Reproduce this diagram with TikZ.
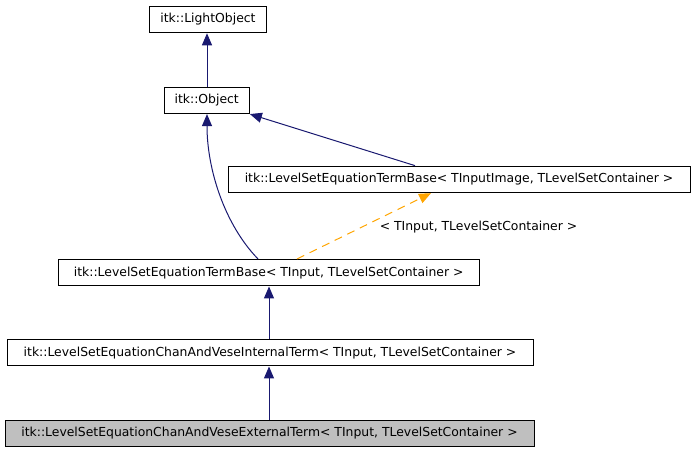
\documentclass[tikz,border=0pt]{standalone}
\usepackage{fontspec}
\setmainfont{DejaVu Sans}
\usetikzlibrary{arrows.meta}
\definecolor{edgeblue}{HTML}{191970}
\definecolor{edgeorange}{HTML}{FFA500}
\definecolor{boxgray}{HTML}{BFBFBF}
\begin{document}
\begin{tikzpicture}[x=0.75pt,y=-0.75pt,
  cls/.style={draw=black,line width=0.75pt,fill=white,inner sep=0pt,minimum height=19.9pt,font=\fontsize{9.3}{11}\selectfont},
  inh/.style={draw=edgeblue,line width=0.75pt,-{Triangle[length=9pt,width=7.5pt]}},
  tmpl/.style={draw=edgeorange,line width=0.75pt,dash pattern=on 6pt off 4.5pt,-{Triangle[length=9pt,width=7.5pt,fill=edgeorange]}}]
\useasboundingbox (0,0) rectangle (693,453);
\node[cls,minimum width=88pt] (light) at (208,19.5) {itk::LightObject};
\node[cls,minimum width=64pt] (obj) at (206.7,100.3) {itk::Object};
\node[cls,minimum width=346.5pt] (baseimg) at (459,179.4) {itk::LevelSetEquationTermBase< TInputImage, TLevelSetContainer >};
\node[cls,minimum width=315.75pt] (base) at (268.7,272.7) {itk::LevelSetEquationTermBase< TInput, TLevelSetContainer >};
\node[cls,minimum width=394.5pt] (internal) at (270,352.7) {itk::LevelSetEquationChanAndVeseInternalTerm< TInput, TLevelSetContainer >};
\node[cls,fill=boxgray,minimum width=396.75pt] (external) at (269.5,433.3) {itk::LevelSetEquationChanAndVeseExternalTerm< TInput, TLevelSetContainer >};
\draw[inh] (obj.north -| 207,0) -- (light.south -| 207,0);
\draw[inh] (baseimg.north -| 415,0) -- (obj.south east);
\draw[inh] (base.north -| 258,0) .. controls (225,225) and (207,170) .. (obj.south -| 207,0);
\draw[tmpl] (base.north -| 297,0) -- (baseimg.south -| 431,0);
\node[font=\fontsize{9.3}{11}\selectfont,inner sep=0pt] (lbl) at (478.5,226.7) {< TInput, TLevelSetContainer >};
\draw[inh] (internal.north -| 269,0) -- (base.south -| 269,0);
\draw[inh] (external.north -| 269,0) -- (internal.south -| 269,0);
\end{tikzpicture}
\end{document}
